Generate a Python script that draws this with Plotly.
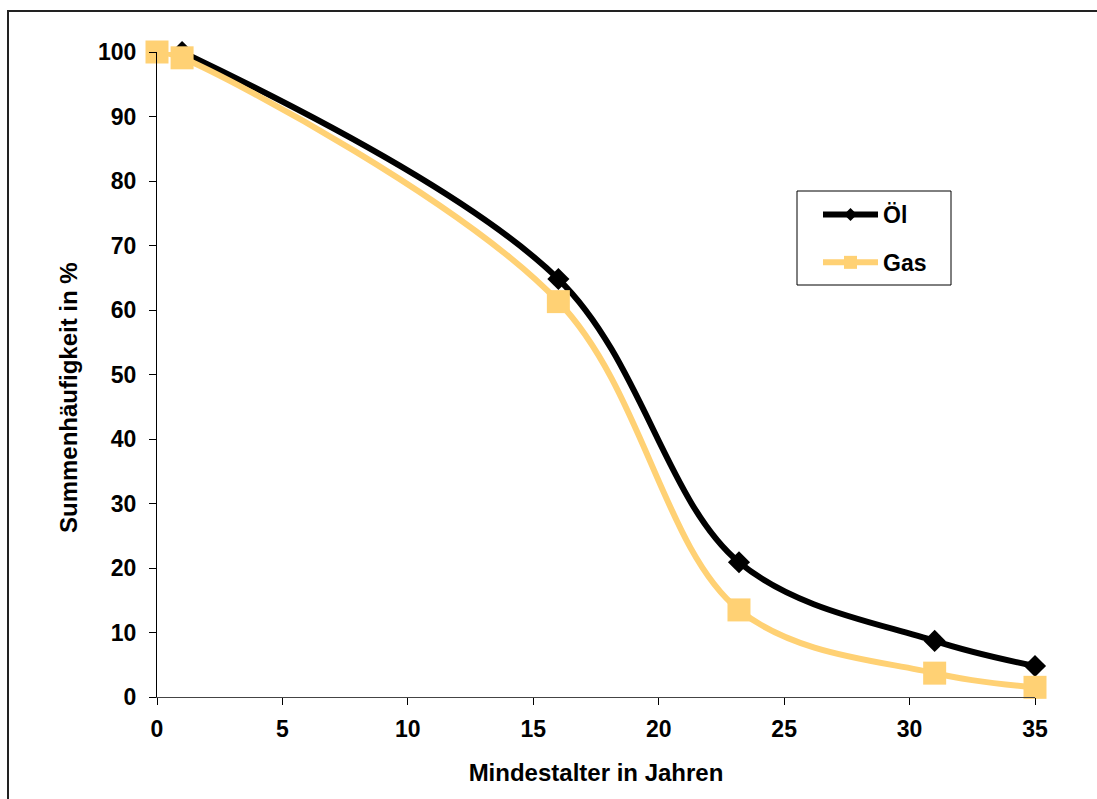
import plotly.graph_objects as go

# Data
oel_x = [1, 16, 23.2, 31, 35]
oel_y = [100, 64.8, 20.9, 8.7, 4.8]
gas_x = [0, 1, 16, 23.2, 31, 35]
gas_y = [100, 99.1, 61.3, 13.5, 3.7, 1.5]
x_ticks = [0, 5, 10, 15, 20, 25, 30, 35]
y_ticks = [0, 10, 20, 30, 40, 50, 60, 70, 80, 90, 100]

BLACK = "#000000"
GOLD = "#FFD174"
FONT = "Liberation Sans, Arial, sans-serif"

fig = go.Figure()
fig.add_trace(go.Scatter(x=oel_x, y=oel_y, mode="lines+markers", name="Öl",
                         line=dict(color=BLACK, width=6, shape="spline", smoothing=1),
                         marker=dict(symbol="diamond", size=17, color=BLACK),
                         showlegend=False, cliponaxis=False))
fig.add_trace(go.Scatter(x=gas_x, y=gas_y, mode="lines+markers", name="Gas",
                         line=dict(color=GOLD, width=6, shape="spline", smoothing=1),
                         marker=dict(symbol="square", size=23, color=GOLD),
                         showlegend=False, cliponaxis=False))
# legend entries
fig.add_trace(go.Scatter(x=[None], y=[None], mode="lines+markers", name="Öl",
                         line=dict(color=BLACK, width=6),
                         marker=dict(symbol="diamond", size=10, color=BLACK),
                         legendgroup="a"))
fig.add_trace(go.Scatter(x=[None], y=[None], mode="lines+markers", name="Gas",
                         line=dict(color=GOLD, width=6),
                         marker=dict(symbol="square", size=13, color=GOLD),
                         legendgroup="b"))

W, H = 1097, 799
L, R, T, B = 157, 62, 52, 102
pw, ph = W - L - R, H - T - B

def px(x):
    return (x - L) / pw

def py(y):
    return (H - B - y) / ph

# outer frame
fig.add_shape(type="rect", xref="paper", yref="paper",
              x0=px(8), x1=px(1200), y0=py(11), y1=py(900),
              line=dict(color="#222222", width=2), fillcolor="rgba(0,0,0,0)", layer="below")
# legend box
fig.add_shape(type="rect", xref="paper", yref="paper",
              x0=px(797), x1=px(951), y0=py(191), y1=py(285),
              line=dict(color="black", width=1), fillcolor="white", layer="below")

# y axis title as annotation (positioned like the reference)
fig.add_annotation(text="<b>Summenhäufigkeit in %</b>", textangle=-90,
                   xref="paper", yref="paper", x=px(68), y=py(398),
                   xanchor="center", yanchor="middle", showarrow=False,
                   font=dict(family=FONT, size=24, color="black"))

fig.update_layout(
    width=W, height=H,
    margin=dict(l=L, r=R, t=T, b=B, autoexpand=False),
    paper_bgcolor="white", plot_bgcolor="white",
    font=dict(family=FONT, size=24, color="black"),
    legend=dict(x=px(818), y=py(193), xanchor="left", yanchor="top",
                borderwidth=0, bgcolor="rgba(0,0,0,0)",
                font=dict(family=FONT, size=23, color="black", weight="bold"),
                itemwidth=55, tracegroupgap=15, traceorder="grouped"),
    xaxis=dict(range=[0, 35], tickvals=x_ticks, showgrid=False, zeroline=False,
               showline=True, linecolor="#444444", linewidth=1,
               ticks="outside", ticklen=7, tickcolor="black", ticklabelstandoff=4,
               tickfont=dict(family=FONT, size=23, weight="bold"),
               title=dict(text="<b>Mindestalter in Jahren</b>", font=dict(size=24), standoff=23)),
    yaxis=dict(range=[0, 100], tickvals=y_ticks, showgrid=False, zeroline=False,
               showline=True, linecolor="black", linewidth=1,
               ticks="outside", ticklen=7, tickcolor="black", ticklabelstandoff=8,
               tickfont=dict(family=FONT, size=23, weight="bold")),
)

fig.write_html("out.html")
